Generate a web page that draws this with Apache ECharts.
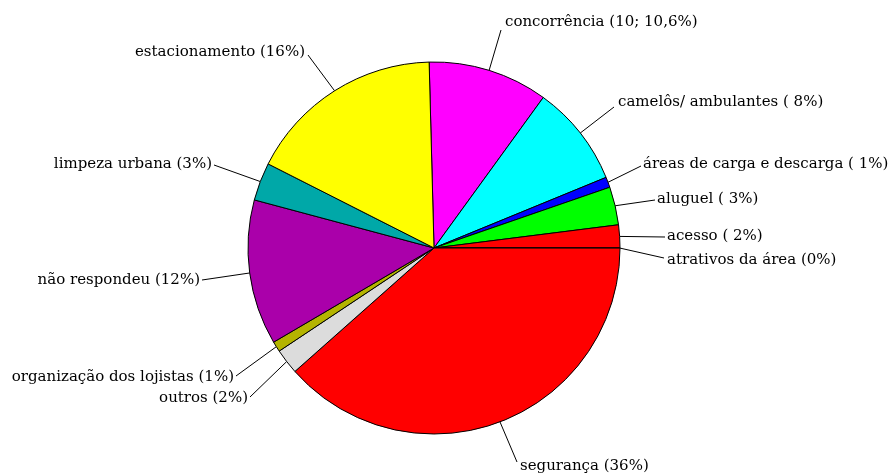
<!DOCTYPE html>
<html>
<head>
<meta charset="utf-8">
<script src="https://cdn.jsdelivr.net/npm/echarts@6/dist/echarts.min.js"></script>
<style>
  html, body { margin: 0; padding: 0; background: #fff; }
  #chart { width: 890px; height: 475px; }
</style>
</head>
<body>
<div id="chart"></div>
<script>
// fatias no sentido horário a partir do topo
const categorias = ['concorrência', 'camelôs/ ambulantes', 'áreas de carga e descarga', 'aluguel',
    'acesso', 'atrativos da área', 'segurança', 'outros', 'organização dos lojistas',
    'não respondeu', 'limpeza urbana', 'estacionamento'];
const rotulos = ['concorrência (10; 10,6%)', 'camelôs/ ambulantes ( 8%)', 'áreas de carga e descarga ( 1%)',
    'aluguel ( 3%)', 'acesso ( 2%)', 'atrativos da área (0%)', 'segurança (36%)', 'outros (2%)',
    'organização dos lojistas (1%)', 'não respondeu (12%)', 'limpeza urbana (3%)', 'estacionamento (16%)'];
const valores = [10.4, 8.8, 0.9, 3.3, 2.0, 0, 38.4, 2.2, 0.9, 12.6, 3.3, 17.1];
const cores = ['#ff00ff', '#00ffff', '#0000ff', '#00ff00', '#ff0000', '#ff0000', '#ff0000',
    '#dcdcdc', '#b4b400', '#aa00aa', '#00a8a8', '#ffff00'];

// posição dos rótulos: [x, y, alinhamento, fim da linha x, fim da linha y]
const posRotulos = [
    [505, 22, 'left', 501, 30],
    [618, 102, 'left', 614, 107],
    [643, 164, 'left', 641, 166],
    [657, 199, 'left', 655, 200],
    [667, 236, 'left', 665, 237],
    [667, 260, 'left', 664, 258],
    [520, 466, 'left', 517, 462],
    [248, 398, 'right', 250, 397],
    [234, 377, 'right', 236, 376],
    [200, 280, 'right', 202, 280],
    [212, 164, 'right', 214, 165],
    [305, 52, 'right', 308, 55]
];

const centro = [434, 248];
const raio = 186;
const inicio = 91.5;

const total = valores.reduce((a, b) => a + b, 0);
let acum = 0;
const pontosArco = valores.map(v => {
    const ang = (inicio - (acum + v / 2) / total * 360) * Math.PI / 180;
    acum += v;
    return [centro[0] + raio * Math.cos(ang), centro[1] - raio * Math.sin(ang)];
});

const chart = echarts.init(document.getElementById('chart'));

const option = {
    animation: false,
    backgroundColor: '#fff',
    series: [{
        type: 'pie',
        center: centro,
        radius: raio,
        startAngle: inicio,
        clockwise: true,
        avoidLabelOverlap: false,
        silent: true,
        itemStyle: {
            borderColor: '#000',
            borderWidth: 1
        },
        label: {
            show: true,
            color: '#000',
            fontFamily: 'DejaVu Serif',
            fontSize: 15,
            formatter: function (p) {
                return rotulos[p.dataIndex];
            }
        },
        labelLine: {
            show: true,
            lineStyle: { color: '#000', width: 1 }
        },
        labelLayout: function (p) {
            const pos = posRotulos[p.dataIndex];
            const a = pontosArco[p.dataIndex];
            return {
                x: pos[0],
                y: pos[1],
                align: pos[2],
                verticalAlign: 'middle',
                labelLinePoints: [[a[0], a[1]], [a[0], a[1]], [pos[3], pos[4]]]
            };
        },
        data: categorias.map((c, i) => ({
            name: c,
            value: valores[i],
            itemStyle: { color: cores[i] }
        }))
    }]
};

chart.setOption(option);
</script>
</body>
</html>
